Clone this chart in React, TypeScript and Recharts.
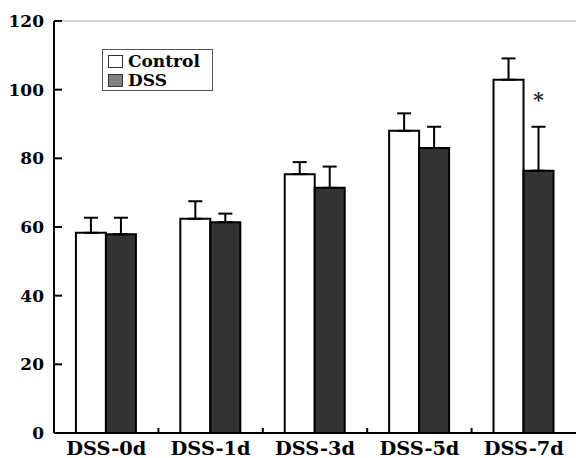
import { BarChart, Bar, XAxis, YAxis, ErrorBar, ReferenceLine, LabelList } from 'recharts'

const categories = ['DSS-0d', 'DSS-1d', 'DSS-3d', 'DSS-5d', 'DSS-7d']
const controlMean = [58.3, 62.4, 75.4, 88.0, 102.9]
const controlSd = [4.4, 5.1, 3.5, 5.1, 6.2]
const dssMean = [57.9, 61.4, 71.4, 83.0, 76.4]
const dssSd = [4.8, 2.5, 6.2, 6.2, 12.8]
const signif = ['', '', '', '', '*']
const yTicks = [0, 20, 40, 60, 80, 100, 120]
const legendItems = [
  { label: 'Control', fill: '#fff' },
  { label: 'DSS', fill: '#808080' },
]

const W = 576
const H = 458
const AXIS_W = 54
const PLOT_W = W - AXIS_W
const FONT = '"DejaVu Serif", serif'

const data = categories.map((name, i) => ({
  name,
  Control: controlMean[i],
  DSS: dssMean[i],
  ctrlErr: [0, controlSd[i]],
  dssErr: [0, dssSd[i]],
  sig: signif[i],
}))

const YTick = (props: any) => {
  const { x, y, payload } = props
  return (
    <g>
      <line x1={x + 10} x2={x + 18} y1={y} y2={y} stroke="#000" strokeWidth={2} />
      <text x={x} y={y} dy={6} textAnchor="end" fontFamily={FONT} fontWeight="bold" fontSize={17} fill="#000">
        {payload.value}
      </text>
    </g>
  )
}

const XTick = (props: any) => {
  const { x, y, payload, index } = props
  const half = PLOT_W / categories.length / 2
  return (
    <g>
      {index < categories.length - 1 && (
        <line x1={x + half} x2={x + half} y1={y} y2={y - 5} stroke="#000" strokeWidth={2} />
      )}
      <text x={x} y={y} dy={22} textAnchor="middle" fontFamily={FONT} fontWeight="bold" fontSize={18} fill="#000" textLength={80} lengthAdjust="spacingAndGlyphs">
        {payload.value}
      </text>
    </g>
  )
}

const Star = (props: any) => {
  const { x, y, width, value } = props
  if (!value) return null
  return (
    <text x={x + width / 2} y={y - 64} textAnchor="middle" fontFamily={FONT} fontWeight="bold" fontSize={20} fill="#222">
      {value}
    </text>
  )
}

export default function App() {
  return (
    <div style={{ position: 'absolute', left: 0, top: 0, width: W, height: H, background: '#fff' }}>
      <BarChart width={W} height={H} data={data} margin={{ top: 21, right: 0, bottom: 0, left: 0 }} barGap={0} barCategoryGap="21%">
        <XAxis dataKey="name" height={25} tickSize={0} tickMargin={0} tick={<XTick />} axisLine={{ stroke: '#000', strokeWidth: 2 }} tickLine={false} />
        <YAxis width={AXIS_W} domain={[0, 120]} ticks={yTicks} tickSize={0} tickMargin={10} tick={<YTick />} axisLine={{ stroke: '#000', strokeWidth: 2 }} tickLine={false} />
        <ReferenceLine y={120} stroke="#aaa" strokeWidth={1} />
        <Bar dataKey="Control" fill="#fff" stroke="#000" strokeWidth={2} isAnimationActive={false}>
          <ErrorBar dataKey="ctrlErr" direction="y" width={7} stroke="#000" strokeWidth={2} />
        </Bar>
        <Bar dataKey="DSS" fill="#333" stroke="#000" strokeWidth={2} isAnimationActive={false}>
          <ErrorBar dataKey="dssErr" direction="y" width={7} stroke="#000" strokeWidth={2} />
          <LabelList dataKey="sig" content={<Star />} />
        </Bar>
      </BarChart>
      <div style={{ position: 'absolute', left: 102, top: 49, width: 111, height: 42, boxSizing: 'border-box', border: '1px solid #555', padding: '2px 0 0 5px', fontFamily: FONT, fontWeight: 'bold', fontSize: 17, lineHeight: '19px', background: '#fff' }}>
        {legendItems.map(it => (
          <div key={it.label} style={{ display: 'flex', alignItems: 'center', height: 19 }}>
            <span style={{ width: 13, height: 11, border: '1.5px solid #333', background: it.fill, display: 'inline-block', marginRight: 5, flexShrink: 0 }} />
            {it.label}
          </div>
        ))}
      </div>
    </div>
  )
}
